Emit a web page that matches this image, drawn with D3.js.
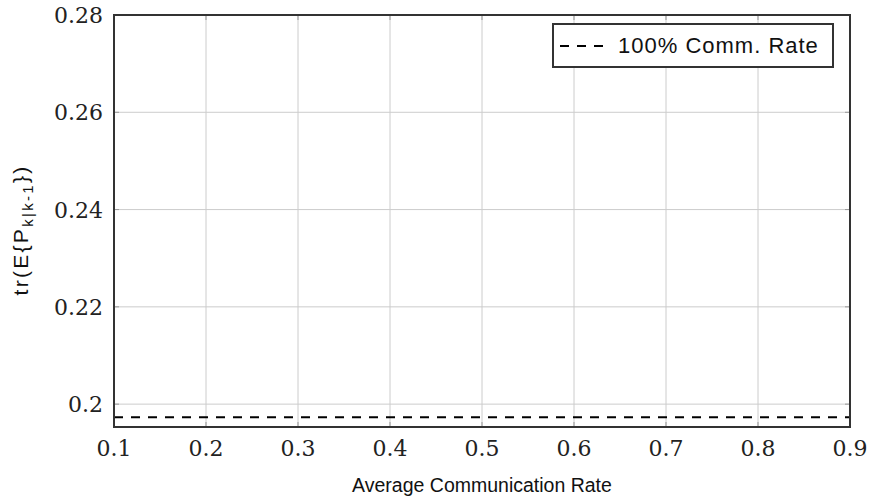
<!DOCTYPE html>
<html>
<head>
<meta charset="utf-8">
<script src="https://cdn.jsdelivr.net/npm/d3@7"></script>
<style>
  body { margin: 0; background: #fff; }
</style>
</head>
<body>
<svg id="chart" width="869" height="500"></svg>
<script>
"use strict";

// data
const xTicks = [0.1, 0.2, 0.3, 0.4, 0.5, 0.6, 0.7, 0.8, 0.9];
const yTicks = [0.2, 0.22, 0.24, 0.26, 0.28];
const xDomain = [0.1, 0.9];
const yDomain = [0.1953, 0.28];
const fullRateX = [0.1, 0.9];
const fullRateY = [0.1973, 0.1973];
const legendLabel = "100% Comm. Rate";

const margin = { left: 114, right: 19, top: 15, bottom: 73 };
const W = 869, H = 500;

const svg = d3.select("#chart");

const x = d3.scaleLinear().domain(xDomain).range([margin.left, W - margin.right]);
const y = d3.scaleLinear().domain(yDomain).range([H - margin.bottom, margin.top]);

// grid
let grid = svg.append("g");
grid.selectAll("line.vx")
  .data(xTicks)
  .enter()
  .append("line")
  .attr("x1", d => x(d)).attr("x2", d => x(d))
  .attr("y1", y.range()[0]).attr("y2", y.range()[1])
  .style("stroke", "#cccccc")
  .style("stroke-width", 1);
grid.selectAll("line.hy")
  .data(yTicks)
  .enter()
  .append("line")
  .attr("x1", x.range()[0]).attr("x2", x.range()[1])
  .attr("y1", d => y(d)).attr("y2", d => y(d))
  .style("stroke", "#cccccc")
  .style("stroke-width", 1);

// inward tick marks
let ticks = svg.append("g");
xTicks.forEach(t => {
  ticks.append("line")
    .attr("x1", x(t)).attr("x2", x(t))
    .attr("y1", y.range()[0]).attr("y2", y.range()[0] - 5)
    .style("stroke", "#999").style("stroke-width", 1);
  ticks.append("line")
    .attr("x1", x(t)).attr("x2", x(t))
    .attr("y1", y.range()[1]).attr("y2", y.range()[1] + 5)
    .style("stroke", "#999").style("stroke-width", 1);
});
yTicks.forEach(t => {
  ticks.append("line")
    .attr("x1", x.range()[0]).attr("x2", x.range()[0] + 5)
    .attr("y1", y(t)).attr("y2", y(t))
    .style("stroke", "#999").style("stroke-width", 1);
  ticks.append("line")
    .attr("x1", x.range()[1]).attr("x2", x.range()[1] - 5)
    .attr("y1", y(t)).attr("y2", y(t))
    .style("stroke", "#999").style("stroke-width", 1);
});

// the dashed 100% line
const line = d3.line().x(d => x(d[0])).y(d => y(d[1]));
svg.append("path")
  .datum(d3.zip(fullRateX, fullRateY))
  .attr("d", line)
  .style("fill", "none")
  .style("stroke", "#000")
  .style("stroke-width", 2.2)
  .attr("stroke-dasharray", "9,8");

// frame
svg.append("rect")
  .attr("x", x.range()[0]).attr("y", y.range()[1])
  .attr("width", x.range()[1] - x.range()[0])
  .attr("height", y.range()[0] - y.range()[1])
  .style("fill", "none")
  .style("stroke", "#333")
  .style("stroke-width", 2);

// tick labels
const serif = "'DejaVu Serif', serif";
svg.append("g").selectAll("text")
  .data(xTicks)
  .enter()
  .append("text")
  .attr("x", d => x(d))
  .attr("y", y.range()[0] + 29)
  .attr("text-anchor", "middle")
  .style("font-family", serif)
  .style("font-size", "22px")
  .style("fill", "#222")
  .text(d => d3.format("")(d));

svg.append("g").selectAll("text")
  .data(yTicks)
  .enter()
  .append("text")
  .attr("x", x.range()[0] - 11)
  .attr("y", d => y(d) + 8)
  .attr("text-anchor", "end")
  .style("font-family", serif)
  .style("font-size", "22px")
  .style("fill", "#222")
  .text(d => d3.format("")(d));

// axis labels
const sans = "'Liberation Sans', Arial, sans-serif";
svg.append("text")
  .attr("x", (x.range()[0] + x.range()[1]) / 2)
  .attr("y", 492)
  .attr("text-anchor", "middle")
  .style("font-family", sans)
  .style("font-size", "19.5px")
  .style("fill", "#111")
  .text("Average Communication Rate");

let yl = svg.append("text")
  .attr("transform", "translate(28,230) rotate(-90)")
  .attr("text-anchor", "middle")
  .style("font-family", sans)
  .style("font-size", "21px")
  .style("letter-spacing", "2.3px")
  .style("fill", "#111");
yl.append("tspan").text("tr(E{P");
yl.append("tspan").attr("dy", 5).style("font-size", "15px").text("k|k-1");
yl.append("tspan").attr("dy", -5).text("})");

// legend
let lg = svg.append("g").attr("transform", "translate(553,24)");
lg.append("rect")
  .attr("width", 280).attr("height", 43)
  .style("fill", "#fff")
  .style("stroke", "#333")
  .style("stroke-width", 2);
lg.append("line")
  .attr("x1", 7).attr("x2", 50)
  .attr("y1", 22).attr("y2", 22)
  .style("stroke", "#000")
  .style("stroke-width", 2.2)
  .attr("stroke-dasharray", "9,8");
lg.append("text")
  .attr("x", 65).attr("y", 29)
  .style("font-family", sans)
  .style("font-size", "22px")
  .style("letter-spacing", "1px")
  .style("fill", "#111")
  .text(legendLabel);
</script>
</body>
</html>
